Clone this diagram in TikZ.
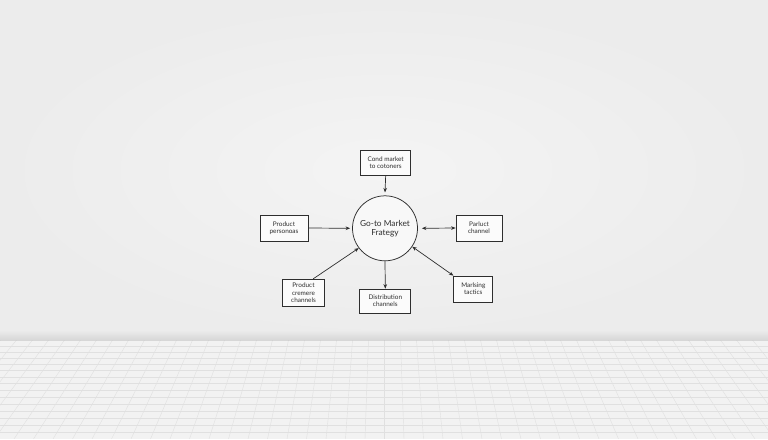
\documentclass[tikz,border=0pt]{standalone}
\usepackage{fontspec}
\setmainfont{Lato}
\usetikzlibrary{arrows.meta}
\definecolor{wall}{HTML}{ECECEC}
\definecolor{wallc}{HTML}{F4F4F4}
\definecolor{floorc}{HTML}{F2F2F2}
\definecolor{gridc}{HTML}{E0E0E0}
\definecolor{ink}{HTML}{2E2E2E}
\begin{document}
\begin{tikzpicture}[x=1pt,y=-1pt,
  box/.style={draw=ink, line width=0.7pt, fill=white!60!wallc, text=ink, align=center,
    font=\fontsize{6.4}{7.2}\selectfont, inner sep=0pt},
  hub/.style={draw=ink, line width=0.75pt, circle, minimum size=65pt, fill=white!40!wallc, text=ink,
    align=center, font=\fontsize{8.3}{9.2}\selectfont, inner sep=0pt},
  conn/.style={draw=ink, line width=0.7pt, -{Stealth[length=4.5pt,width=3.6pt]}},
  conn2/.style={draw=ink, line width=0.7pt, {Stealth[length=4.5pt,width=3.6pt]}-{Stealth[length=4.5pt,width=3.6pt]}}]
\useasboundingbox (0,0) rectangle (768,439);
% wall
\shade[inner color=wallc, outer color=wall] (0,0) rectangle (768,340);
\shade[top color=wall, bottom color=black!9!wall] (0,330) rectangle (768,340);
% floor
\fill[floorc] (0,340) rectangle (768,439);
\foreach \y in {346,352,358,364,370.5,377,383.5,390,397,404,411,418,425,432} {
  \draw[gridc, line width=0.4pt] (0,\y) -- (768,\y);
}
\foreach \k in {-30,...,30} {
  \draw[gridc, line width=0.4pt] ({384.5+\k*16},340) -- ({384.5+\k*19.5},439);
}
\draw[gridc!85!black, line width=0.4pt, opacity=0.5] (0,340) -- (768,340);
% nodes
\node[hub] (hub) at (385,228.3) {Go-to Market\\Frategy};
\node[box, minimum width=50pt, minimum height=25pt] (top) at (385.7,162.5) {Cond market\\to cotoners};
\node[box, minimum width=48pt, minimum height=26pt] (left) at (284,228) {Product\\personoas};
\node[box, minimum width=46pt, minimum height=26pt] (right) at (479,228) {Parluct\\channel};
\node[box, minimum width=42pt, minimum height=27pt] (bl) at (303.5,292.7) {Product\\cremere\\channels};
\node[box, minimum width=51pt, minimum height=24pt] (dist) at (385.3,301) {Distribution\\channels};
\node[box, minimum width=39pt, minimum height=26pt] (mt) at (473.3,289) {Marlsing\\tactics};
% connectors
\draw[conn] (top.south) -- ([yshift=3pt]hub.north);
\draw[conn] (left.east) -- ([xshift=-2pt]hub.west);
\draw[conn2] ([xshift=4pt]hub.east) -- (right.west);
\draw[conn] (bl.55) -- (hub.217);
\draw[conn] (hub.south) -- (dist.north);
\draw[conn2] (hub.326) -- (mt.north west);
\end{tikzpicture}
\end{document}
